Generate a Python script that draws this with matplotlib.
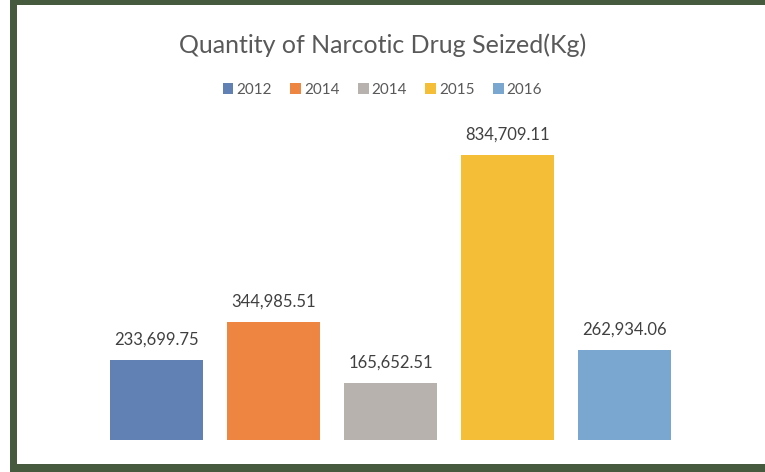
import matplotlib
matplotlib.use("Agg")
import matplotlib.pyplot as plt
from matplotlib.patches import Rectangle, Patch

years = ["2012", "2014", "2014", "2015", "2016"]
quantities = [233699.75, 344985.51, 165652.51, 834709.11, 262934.06]
colors = ["#6180b4", "#ee8540", "#b8b2ae", "#f5be37", "#7aa7cf"]

W, H = 765, 472
fig = plt.figure(figsize=(W / 100, H / 100), dpi=100)
fig.patch.set_facecolor("white")

# dark green frame (left, top, bottom; right side is cut off)
frame = "#465a3e"
for x0, y0, w, h in [(10, 0, 7, 472), (10, 467, 755, 5), (10, 0, 755, 8)]:
    fig.patches.append(Rectangle((x0 / W, y0 / H), w / W, h / H, transform=fig.transFigure,
                                 facecolor=frame, edgecolor="none", zorder=0))

ax = fig.add_axes([98 / W, 32 / H, 585 / W, 307.3 / H])
x = range(len(quantities))
bars = ax.bar(x, quantities, width=0.795, color=colors)
ax.set_xlim(-0.5, len(quantities) - 0.5)
ax.set_ylim(0, 900000)
ax.axis("off")

for rect, val in zip(bars, quantities):
    ax.annotate(f"{val:,.2f}", (rect.get_x() + rect.get_width() / 2, val),
                xytext=(0, 9), textcoords="offset points", ha="center", va="bottom",
                fontsize=12, color="#404040", family="Lato")

fig.text(0.5, 1 - 45 / H, "Quantity of Narcotic Drug Seized(Kg)", ha="center", va="center",
         fontsize=18, color="#595959", family="Lato")

handles = [Patch(facecolor=c, edgecolor="none") for c in colors]
fig.legend(handles, years, loc="center", bbox_to_anchor=(0.5, 1 - 90 / H), ncol=5,
           frameon=False, handlelength=0.7, handleheight=0.7, handletextpad=0.2,
           columnspacing=1.2, prop={"family": "Lato", "size": 11}, labelcolor="#595959")

fig.savefig("out.png", dpi=100)
